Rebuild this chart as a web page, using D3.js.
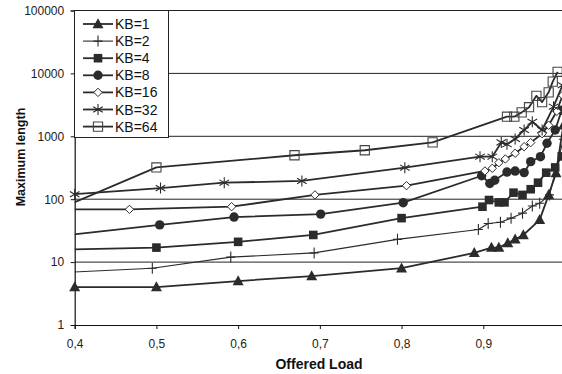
<!DOCTYPE html>
<html>
<head>
<meta charset="utf-8">
<script src="https://cdn.jsdelivr.net/npm/d3@7/dist/d3.min.js"></script>
<style>
  html, body { margin: 0; padding: 0; background: #fff; }
  svg { display: block; font-family: "Liberation Sans", Arial, sans-serif; }
</style>
</head>
<body>
<svg id="chart" width="562" height="374"></svg>
<script>
// Offered load (x) and maximum length (y) per block size
const kb1Load  = [0.4, 0.5, 0.6, 0.69, 0.8, 0.889, 0.91, 0.919, 0.93, 0.939, 0.949, 0.969, 0.98, 0.989, 0.998];
const kb1Len   = [4, 4, 5, 6, 8, 14, 17, 17, 20, 23, 27, 47, 117, 260, 1500];

const kb2Load  = [0.3, 0.495, 0.591, 0.693, 0.795, 0.894, 0.906, 0.921, 0.934, 0.948, 0.96, 0.969, 0.981, 0.998];
const kb2Len   = [6, 8, 12, 14, 23, 33, 41, 43, 50, 60, 78, 86, 117, 900];

const kb4Load  = [0.3, 0.5, 0.6, 0.692, 0.8, 0.899, 0.907, 0.919, 0.926, 0.937, 0.948, 0.958, 0.967, 0.977, 0.988, 0.996];
const kb4Len   = [15, 17, 21, 27, 50, 76, 97, 89, 89, 127, 117, 144, 183, 264, 320, 480];

const kb8Load  = [0.3, 0.504, 0.595, 0.701, 0.802, 0.898, 0.908, 0.914, 0.929, 0.939, 0.95, 0.958, 0.97, 0.978, 0.988, 0.996];
const kb8Len   = [20, 39, 52, 58, 88, 236, 178, 200, 270, 280, 265, 395, 474, 774, 1260, 2600];

const kb16Load = [0.3, 0.467, 0.592, 0.694, 0.806, 0.902, 0.911, 0.919, 0.927, 0.939, 0.95, 0.958, 0.972, 0.98, 0.99, 0.997];
const kb16Len  = [69, 69, 76, 117, 164, 281, 310, 380, 436, 537, 684, 793, 1100, 1500, 2500, 4500];

const kb32Load = [0.4, 0.505, 0.583, 0.678, 0.804, 0.896, 0.911, 0.922, 0.929, 0.939, 0.95, 0.96, 0.972, 0.986, 0.997];
const kb32Len  = [120, 150, 183, 195, 317, 474, 474, 800, 746, 906, 1260, 1700, 1260, 2960, 6500];

const kb64Load = [0.3, 0.5, 0.669, 0.755, 0.838, 0.929, 0.938, 0.947, 0.956, 0.965, 0.972, 0.98, 0.985, 0.991];
const kb64Len  = [25, 320, 500, 600, 800, 2050, 2050, 2400, 2900, 4400, 3500, 5000, 7400, 10600];

const seriesNames = ["KB=1", "KB=2", "KB=4", "KB=8", "KB=16", "KB=32", "KB=64"];
const xTicks = [0.4, 0.5, 0.6, 0.7, 0.8, 0.9, 1.0];
const yTicks = [1, 10, 100, 1000, 10000, 100000];

const series = [
  { name: seriesNames[0], load: kb1Load,  len: kb1Len,  marker: "triangle", width: 1.8 },
  { name: seriesNames[1], load: kb2Load,  len: kb2Len,  marker: "plus",     width: 1.1 },
  { name: seriesNames[2], load: kb4Load,  len: kb4Len,  marker: "square",   width: 1.8 },
  { name: seriesNames[3], load: kb8Load,  len: kb8Len,  marker: "circle",   width: 1.8 },
  { name: seriesNames[4], load: kb16Load, len: kb16Len, marker: "diamond",  width: 1.8 },
  { name: seriesNames[5], load: kb32Load, len: kb32Len, marker: "asterisk", width: 1.8 },
  { name: seriesNames[6], load: kb64Load, len: kb64Len, marker: "opensq",   width: 1.8 }
];

const ink = "#2b2b2b";
const plotLeft = 74.7, plotRight = 565, plotTop = 10.5, plotBottom = 325;

const svg = d3.select("#chart");
const x = d3.scaleLinear().domain([0.4, 1.0]).range([plotLeft, plotRight]);
const y = d3.scaleLog().domain([1, 100000]).range([plotBottom, plotTop]);

// Horizontal gridlines at every decade
svg.append("g")
  .selectAll("line")
  .data(yTicks.slice(1))
  .join("line")
  .attr("x1", plotLeft).attr("x2", plotRight)
  .attr("y1", d => y(d)).attr("y2", d => y(d))
  .attr("stroke", "#222").attr("stroke-width", 1);

// Axes
const fmtX = d => d === 1 ? "1" : d3.format(".1f")(d).replace(".", ",");
const xAxis = svg.append("g")
  .attr("transform", `translate(0,${plotBottom})`)
  .call(d3.axisBottom(x).tickValues(xTicks).tickFormat(fmtX).tickSize(4).tickPadding(10.5));
const yAxis = svg.append("g")
  .attr("transform", `translate(${plotLeft},0)`)
  .call(d3.axisLeft(y).tickValues(yTicks).tickFormat(d3.format("d")).tickSize(4).tickPadding(6.5));
[xAxis, yAxis].forEach(g => {
  g.select(".domain").attr("stroke", "#111").attr("stroke-width", 1.2);
  g.selectAll(".tick line").attr("stroke", "#111");
  g.selectAll(".tick text").attr("fill", "#222").style("font-size", "12px")
    .style("font-family", '"Liberation Sans", Arial, sans-serif');
});

// Axis titles
svg.append("text")
  .attr("x", 319).attr("y", 369)
  .attr("text-anchor", "middle")
  .style("font-size", "14px").style("font-weight", "bold").attr("fill", "#111")
  .text("Offered Load");
svg.append("text")
  .attr("transform", "translate(24.5,157) rotate(-90)")
  .attr("text-anchor", "middle")
  .style("font-size", "12.5px").style("font-weight", "bold").attr("fill", "#111")
  .text("Maximum length");

// Clip series lines to the plotting area
svg.append("clipPath").attr("id", "plotclip")
  .append("rect").attr("x", plotLeft).attr("y", 0)
  .attr("width", plotRight - plotLeft).attr("height", plotBottom);

const markerPaths = {
  triangle: "M0,-5.8L5.5,4.2L-5.5,4.2Z",
  plus: "M-4.5,0H4.5M0,-5.5V5.5",
  square: "M-4.3,-4.3H4.3V4.3H-4.3Z",
  diamond: "M0,-4.2L4.2,0L0,4.2L-4.2,0Z",
  asterisk: "M0,-5.5V5.5M-4.8,-2.8L4.8,2.8M-4.8,2.8L4.8,-2.8",
  opensq: "M-4.6,-4.6H4.6V4.6H-4.6Z"
};

function drawMarker(g, type) {
  if (type === "circle") {
    return g.append("circle").attr("r", 4.7).attr("fill", ink);
  }
  const p = g.append("path").attr("d", markerPaths[type]);
  if (type === "triangle" || type === "square") p.attr("fill", ink);
  else if (type === "diamond") p.attr("fill", "#fff").attr("stroke", ink).attr("stroke-width", 1);
  else if (type === "opensq") p.attr("fill", "none").attr("stroke", "#444").attr("stroke-width", 1.1);
  else p.attr("fill", "none").attr("stroke", ink).attr("stroke-width", 1.1);
  return p;
}

const line = d3.line().x(d => x(d[0])).y(d => y(d[1]));

series.forEach(s => {
  const pts = s.load.map((v, i) => [v, s.len[i]]);
  svg.append("path")
    .attr("clip-path", "url(#plotclip)")
    .attr("d", line(pts))
    .attr("fill", "none").attr("stroke", ink).attr("stroke-width", s.width)
    .attr("stroke-linejoin", "round");
  const g = svg.append("g");
  pts.filter(d => d[0] >= 0.4).forEach(d => {
    const m = g.append("g").attr("transform", `translate(${x(d[0])},${y(d[1])})`);
    drawMarker(m, s.marker);
  });
});

// Legend
const legend = svg.append("g");
legend.append("rect")
  .attr("x", 74.5).attr("y", 10.5).attr("width", 94).attr("height", 127)
  .attr("fill", "#fff").attr("stroke", "#222").attr("stroke-width", 1);
series.forEach((s, i) => {
  const yy = 24 + i * 17.1;
  legend.append("line")
    .attr("x1", 83).attr("x2", 113).attr("y1", yy).attr("y2", yy)
    .attr("stroke", ink).attr("stroke-width", s.width);
  const m = legend.append("g").attr("transform", `translate(98,${yy})`);
  drawMarker(m, s.marker);
  legend.append("text")
    .attr("x", 115).attr("y", yy + 5)
    .style("font-size", "14px").attr("fill", "#111")
    .text(s.name);
});
</script>
</body>
</html>
